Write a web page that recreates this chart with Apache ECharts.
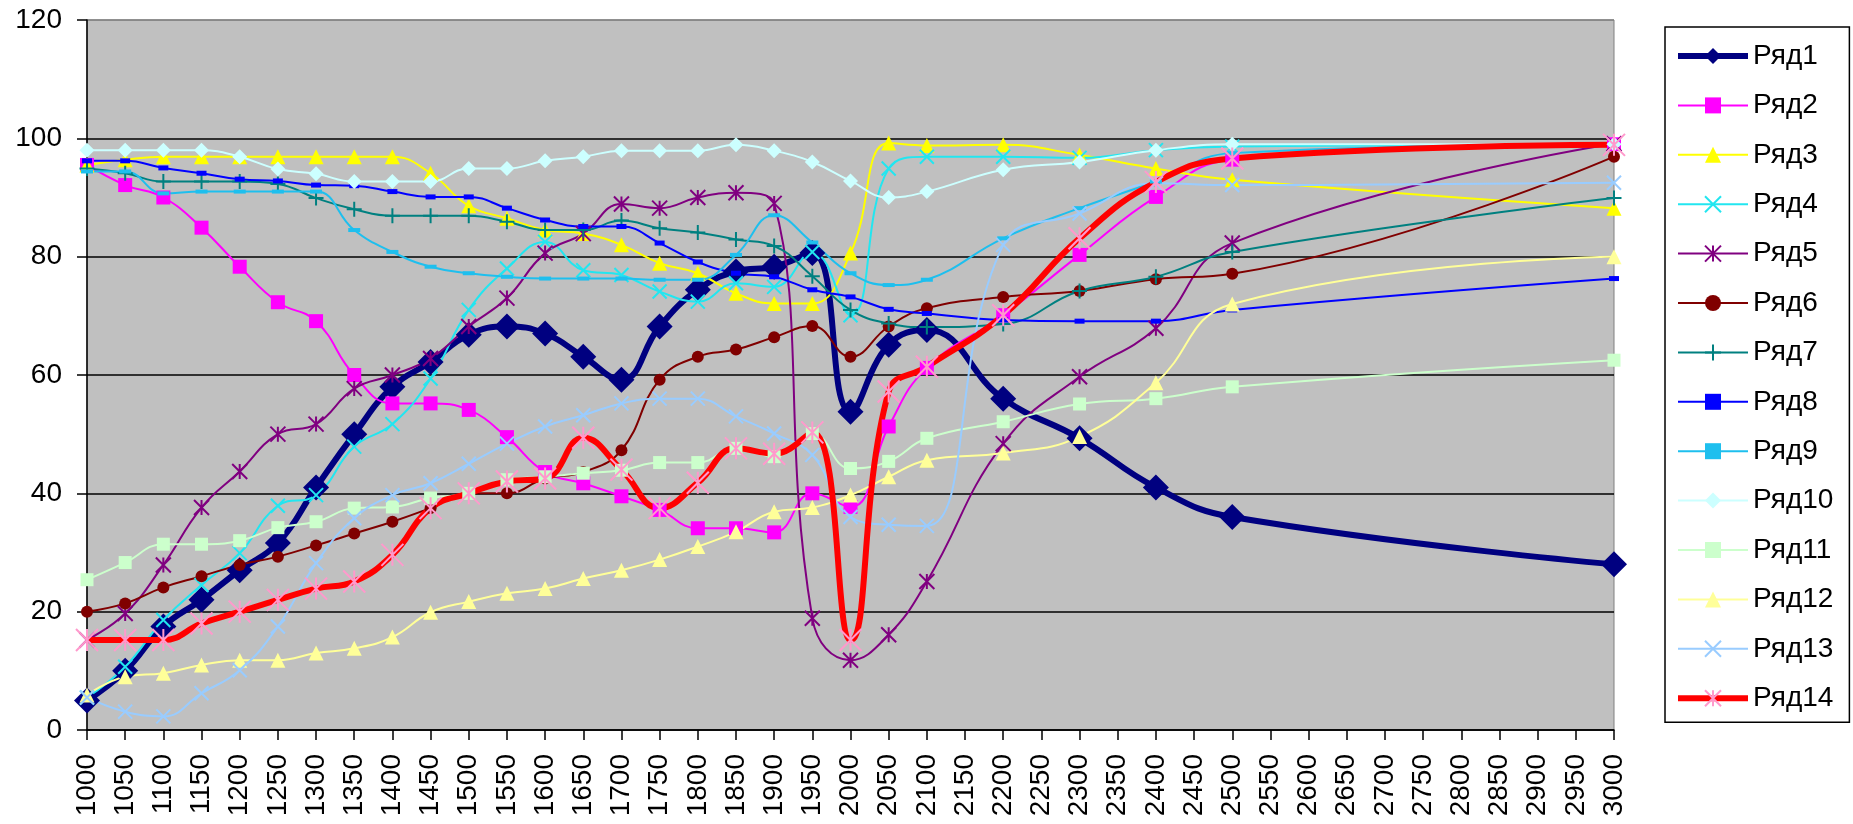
<!DOCTYPE html>
<html>
<head>
<meta charset="utf-8">
<title>Ряд1 – Ряд14</title>
<script src="https://cdn.jsdelivr.net/npm/echarts@6/dist/echarts.min.js"></script>
<style>
  html, body { margin: 0; padding: 0; background: #ffffff; }
  #chart { width: 1853px; height: 824px; }
</style>
</head>
<body>
<div id="chart"></div>
<script>
// x positions of the measured points
const years = [1000, 1050, 1100, 1150, 1200, 1250, 1300, 1350, 1400, 1450, 1500, 1550, 1600, 1650,
               1700, 1750, 1800, 1850, 1900, 1950, 2000, 2050, 2100, 2200, 2300, 2400, 2500, 3000];

const ryad1  = [5, 10, 17.5, 22, 27, 31.6, 41, 50, 58, 62.2, 66.8, 68.2, 67, 63.1, 59.2, 68.2, 74.4, 77.5, 78.3, 80.6, 53.8, 65.1, 67.6, 56, 49.3, 41, 36, 28];
const ryad2  = [95.5, 92.1, 90, 84.9, 78.3, 72.3, 69.1, 60, 55.2, 55.2, 54.1, 49.5, 43.6, 41.7, 39.5, 37.2, 34.1, 34.1, 33.4, 40, 37.7, 51.3, 61.2, 70.1, 80.3, 90.1, 96.4, 99];
const ryad3  = [95.5, 96.4, 96.9, 96.9, 96.9, 96.9, 96.9, 96.9, 96.9, 94.1, 88.6, 86.5, 84.5, 83.9, 82, 78.9, 77.2, 73.8, 72.1, 72.1, 80.6, 99.2, 98.8, 98.9, 97.2, 94.9, 93, 88.2];
const ryad4  = [5.5, 10.7, 18.6, 24.5, 29.9, 37.9, 39.7, 47.9, 51.7, 59.4, 71, 78, 82.5, 77.7, 76.9, 74.1, 72.4, 75.5, 74.9, 80.8, 70.1, 94.9, 96.9, 96.9, 96.7, 98, 98.6, 99];
const ryad5  = [15.2, 19.7, 27.9, 37.6, 43.7, 50, 51.7, 57.7, 60, 62.8, 68.2, 73, 80.6, 83.9, 88.9, 88.2, 90, 90.8, 89, 18.9, 11.8, 16.1, 25.1, 48.4, 59.7, 67.9, 82.3, 99.1];
const ryad6  = [20, 21.4, 24.1, 26, 27.9, 29.3, 31.2, 33.2, 35.2, 37.5, 40, 40, 42.5, 43.6, 47.3, 59.2, 63.1, 64.3, 66.4, 68.3, 63.1, 68.2, 71.3, 73.2, 74.2, 76.2, 77.1, 96.9];
const ryad7  = [94.9, 94.1, 92.7, 92.7, 92.7, 92.3, 89.9, 88, 86.9, 86.9, 86.9, 85.9, 84.5, 84.5, 86.1, 84.8, 84.1, 82.9, 81.8, 76.7, 71, 68.7, 68.1, 68.6, 74.2, 76.6, 80.8, 89.9];
const ryad8  = [96.2, 96.2, 95, 94.1, 93.1, 92.8, 92.1, 92, 91, 90.1, 90.1, 88.2, 86.2, 85.1, 85.1, 82.3, 79.1, 77.2, 76.6, 74.4, 73.2, 71.1, 70.4, 69.3, 69.1, 69.1, 71, 76.3];
const ryad9  = [94.4, 94.4, 90.7, 91, 91, 91, 91, 84.5, 80.8, 78.3, 77.2, 76.6, 76.3, 76.3, 76.3, 76.1, 76.1, 80.3, 87, 82.4, 77.2, 75.2, 76.1, 83.1, 88.2, 92.7, 97.5, 99];
const ryad10 = [98, 98, 98, 98, 96.9, 94.8, 94, 92.7, 92.7, 92.7, 94.9, 94.9, 96.2, 96.9, 97.9, 97.9, 97.9, 98.9, 97.9, 96, 92.8, 90, 91, 94.7, 96, 98, 99, 99];
const ryad11 = [25.4, 28.3, 31.4, 31.4, 32, 34.2, 35.2, 37.5, 37.7, 39.2, 40, 42.3, 42.8, 43.4, 43.9, 45.2, 45.2, 47.6, 46.2, 50.1, 44.2, 45.4, 49.3, 52.1, 55.1, 56, 58, 62.5];
const ryad12 = [5.9, 9, 9.6, 11, 11.8, 11.8, 13, 13.8, 15.7, 19.9, 21.7, 23.1, 23.9, 25.6, 27, 28.8, 31, 33.5, 36.9, 37.6, 39.7, 42.8, 45.6, 46.8, 49.6, 58.7, 72, 80];
const ryad13 = [5.5, 3.1, 2.3, 6.2, 10.1, 17.5, 28.2, 35.8, 39.7, 41.7, 45, 48.4, 51.3, 53.2, 55.2, 56, 56, 53, 50.1, 46.5, 36, 34.7, 34.5, 82, 87.3, 92.4, 92.1, 92.5];
const ryad14 = [15.2, 15.2, 15.2, 18, 20, 22, 23.9, 25.1, 29.6, 37.5, 40, 42, 42.5, 49.4, 44, 37.5, 41.8, 47.6, 46.7, 50.3, 15.2, 57.2, 61.4, 70.1, 83.1, 92.6, 96.6, 98.9];

const seriesNames = ['Ряд1', 'Ряд2', 'Ряд3', 'Ряд4', 'Ряд5', 'Ряд6', 'Ряд7',
                     'Ряд8', 'Ряд9', 'Ряд10', 'Ряд11', 'Ряд12', 'Ряд13', 'Ряд14'];
const seriesValues = [ryad1, ryad2, ryad3, ryad4, ryad5, ryad6, ryad7,
                      ryad8, ryad9, ryad10, ryad11, ryad12, ryad13, ryad14];

const yTicks = { min: 0, max: 120, step: 20 };

// marker shapes drawn as strokes
const CROSS = 'path://M0,0L10,10M10,0L0,10';
const PLUS = 'path://M5,0L5,10M0,5L10,5';
const STAR = 'path://M0,0L10,10M10,0L0,10M5,0L5,10';

// per-series appearance: line colour, marker colour, marker, size, line width, stroke width of marker
const looks = [
  { line: '#000080', mark: '#000080', symbol: 'diamond', size: 26, width: 6, stroke: 0 },
  { line: '#FF00FF', mark: '#FF00FF', symbol: 'rect', size: 14, width: 2, stroke: 0 },
  { line: '#FFFF00', mark: '#FFFF00', symbol: 'triangle', size: 15, width: 2, stroke: 0 },
  { line: '#22E6F0', mark: '#22E6F0', symbol: CROSS, size: 14, width: 2, stroke: 2 },
  { line: '#800080', mark: '#800080', symbol: STAR, size: 15, width: 2, stroke: 2 },
  { line: '#800000', mark: '#800000', symbol: 'circle', size: 12, width: 2, stroke: 0 },
  { line: '#008080', mark: '#008080', symbol: PLUS, size: 15, width: 2, stroke: 2 },
  { line: '#0000FF', mark: '#0000FF', symbol: 'rect', size: [10, 5], width: 2, stroke: 0 },
  { line: '#1EBFEE', mark: '#1EBFEE', symbol: 'rect', size: [12, 4], width: 2, stroke: 0 },
  { line: '#CCFFFF', mark: '#CCFFFF', symbol: 'diamond', size: 15, width: 2, stroke: 0 },
  { line: '#CCFFCC', mark: '#CCFFCC', symbol: 'rect', size: 13, width: 2, stroke: 0 },
  { line: '#FFFF99', mark: '#FFFF99', symbol: 'triangle', size: 15, width: 2, stroke: 0 },
  { line: '#99CCFF', mark: '#99CCFF', symbol: CROSS, size: 14, width: 2, stroke: 2 },
  { line: '#FF0000', mark: '#FF99CC', symbol: STAR, size: 22, width: 6, stroke: 2 }
];

const FONT = '"Liberation Sans", Arial, sans-serif';

const series = seriesNames.map((name, i) => {
  const look = looks[i];
  return {
    name: name,
    type: 'line',
    smooth: 0.45,
    data: years.map((x, k) => [x, seriesValues[i][k]]),
    symbol: look.symbol,
    symbolSize: look.size,
    showSymbol: true,
    lineStyle: { color: look.line, width: look.width },
    itemStyle: {
      color: look.mark,
      borderColor: look.mark,
      borderWidth: look.stroke
    },
    emphasis: { disabled: true },
    animation: false
  };
});

// legend entries keep each series' own line weight
const legendItems = seriesNames.map((name, i) => ({
  name: name,
  lineStyle: { width: looks[i].width, color: looks[i].line },
  itemStyle: {
    color: looks[i].mark,
    borderColor: looks[i].mark,
    borderWidth: looks[i].stroke
  }
}));

const chart = echarts.init(document.getElementById('chart'), null, { renderer: 'canvas' });

chart.setOption({
  animation: false,
  grid: {
    left: 87, right: 239, top: 20, bottom: 94,
    show: true,
    backgroundColor: '#C0C0C0',
    borderColor: '#808080',
    borderWidth: 1
  },
  xAxis: {
    type: 'value',
    min: 1000,
    max: 3000,
    interval: 50,
    axisLine: { show: true, lineStyle: { color: '#000000', width: 1.5 } },
    axisTick: { show: true, length: 10, lineStyle: { color: '#000000', width: 1.5 } },
    axisLabel: {
      rotate: 90,
      margin: 24,
      color: '#000000',
      fontSize: 28,
      fontFamily: FONT,
      formatter: (v) => String(v)
    },
    splitLine: { show: false }
  },
  yAxis: {
    type: 'value',
    min: yTicks.min,
    max: yTicks.max,
    interval: yTicks.step,
    axisLine: { show: true, lineStyle: { color: '#000000', width: 1.5 } },
    axisTick: { show: true, length: 10, lineStyle: { color: '#000000', width: 1.5 } },
    axisLabel: {
      margin: 25,
      color: '#000000',
      fontSize: 28,
      fontFamily: FONT,
      formatter: (v) => String(v)
    },
    splitLine: {
      show: true,
      lineStyle: {
        color: ['#000000', '#000000', '#000000', '#000000', '#000000', '#000000', '#808080'],
        width: 1.5
      }
    }
  },
  legend: {
    orient: 'vertical',
    left: 1665,
    top: 27,
    padding: [14, 16, 9, 10],
    itemGap: 19.4,
    itemWidth: 70,
    itemHeight: 20,
    borderColor: '#000000',
    borderWidth: 1.5,
    selectedMode: false,
    lineStyle: { width: 'inherit' },
    data: legendItems,
    textStyle: {
      color: '#000000',
      fontSize: 28,
      lineHeight: 30,
      fontFamily: FONT
    }
  },
  series: series
});
</script>
</body>
</html>
